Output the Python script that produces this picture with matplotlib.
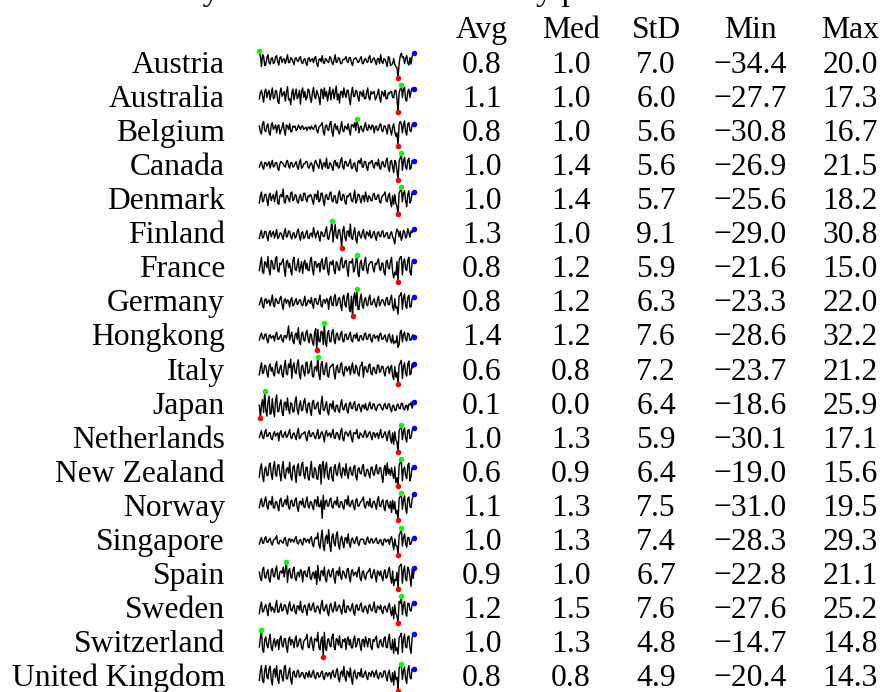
import matplotlib
matplotlib.use("Agg")
import matplotlib.pyplot as plt
import numpy as np

countries = ["Austria", "Australia", "Belgium", "Canada", "Denmark", "Finland",
             "France", "Germany", "Hongkong", "Italy", "Japan", "Netherlands",
             "New Zealand", "Norway", "Singapore", "Spain", "Sweden",
             "Switzerland", "United Kingdom"]

avg = [0.8, 1.1, 0.8, 1.0, 1.0, 1.3, 0.8, 0.8, 1.4, 0.6, 0.1, 1.0, 0.6, 1.1, 1.0, 0.9, 1.2, 1.0, 0.8]
med = [1.0, 1.0, 1.0, 1.4, 1.4, 1.0, 1.2, 1.2, 1.2, 0.8, 0.0, 1.3, 0.9, 1.3, 1.3, 1.0, 1.5, 1.3, 0.8]
std = [7.0, 6.0, 5.6, 5.6, 5.7, 9.1, 5.9, 6.3, 7.6, 7.2, 6.4, 5.9, 6.4, 7.5, 7.4, 6.7, 7.6, 4.8, 4.9]
mins = [-34.4, -27.7, -30.8, -26.9, -25.6, -29.0, -21.6, -23.3, -28.6, -23.7, -18.6, -30.1, -19.0, -31.0, -28.3, -22.8, -27.6, -14.7, -20.4]
maxs = [20.0, 17.3, 16.7, 21.5, 18.2, 30.8, 15.0, 22.0, 32.2, 21.2, 25.9, 17.1, 15.6, 19.5, 29.3, 21.1, 25.2, 14.8, 14.3]

headers = ["Avg", "Med", "StD", "Min", "Max"]

r_austria = [20.0, 8, -12, 12, 8, -10, -8, 6, 12, -4, -7, 4,
             6, -6, -4, 8, 10, -2, -9, 6, 8, -4, 2, 4,
             -6, 2, 12, -4, -4, 6, 4, -2, -8, 4, 6, 0,
             -2, 6, 8, -4, -6, 2, 4, -4, -10, 4, 6, -2,
             2, 4, -4, 6, 8, -6, -12, 2, 4, -2, 10, -4,
             -6, 4, 2, -2, -4, 8, 6, -4, -8, 2, 12, -4,
             -2, 6, 4, -6, -6, 2, 2, 4, 8, -2, -4, 6,
             6, -4, -10, 2, 4, 6, 2, -4, -2, 4, 8, -6,
             -6, 2, 4, -2, -4, 6, 10, -4, -2, 4, 6, -2,
             -8, 4, 4, -6, 12, -2, -6, 4, 2, -4, -12, 8,
             6, -10, -8, -6, 4, -8, -12, -14, -34.4, -6, 9, 15,
             6, 8, -6, 4, 10, -5, -9, 6, -7, 9, 12, 15]
r_australia = [-6, 4, 8, -2, -12, 6, 10, -4, 4, 8, -8, 2,
               12, -6, -4, 8, 6, -10, -14, 4, 12, -2, 2, 6,
               -10, 4, 14, -8, -6, -16, 4, 10, -8, 2, 10, -6,
               -2, 8, -15, 6, 12, -4, 6, -8, -4, 10, 8, -6,
               -12, 4, 13, -2, -6, 8, 2, -4, -16, 10, 8, -6,
               12, -2, 6, -10, 2, 13, -8, 4, 10, -6, 4, 15,
               -8, 2, -13, 6, 6, -4, 12, 2, -4, 8, 8, -6,
               -16, 4, 13, -2, -2, 8, 6, -4, -10, 6, 4, -2,
               8, -6, -6, 4, 12, -4, -8, 6, 2, 4, 6, -8,
               -4, 2, 10, -4, -12, 6, 4, -2, 8, -6, -6, 4,
               2, 6, 6, -4, -4, 8, 8, -6, -27.7, 4, 10, 17.3,
               -4, 10, 13, -8, -10, 6, 10, -4, 6, 12, 10, 10]
r_belgium = [4, -6, -10, 8, 12, -4, -6, 4, 8, -8, -12, 6,
             10, -2, 2, 6, -8, 4, 6, -10, -4, 2, 10, -4,
             -12, 6, 4, -2, 8, -6, -6, 4, 2, 4, -4, -2,
             6, 2, -2, 4, 4, -2, 0, 2, -4, 2, 2, -2,
             4, 0, -2, 4, 6, -4, -8, 2, 4, 6, 10, -6,
             -12, 4, 6, -2, -4, 8, 12, -6, -14, 4, 8, -2,
             4, -6, -10, 2, 12, -4, -6, 4, 2, -2, 8, -4,
             -12, 6, 6, 2, 10, -4, 16.7, 6, -8, 2, 4, -4,
             -6, 4, 10, -2, -4, 6, 2, -2, 6, 4, -8, 2,
             4, -4, -2, 6, 8, -4, -6, 4, 4, -2, -10, 6,
             6, -4, -12, 2, 8, -6, -14, -8, -30.8, 6, 12, 8,
             -8, 6, 13, -6, -12, 8, 10, -4, -6, 6, 8, 7.5]
r_canada = [-4, 2, 6, -4, -8, 4, 4, -2, 2, 6, -6, 2,
            8, -4, -2, 4, 4, -6, -10, 2, 6, 4, 2, -2,
            -4, 6, 8, -2, -6, 4, 4, -4, -2, 2, 6, -4,
            -8, 4, 10, -6, -4, 2, 2, 6, 6, -4, -6, 2,
            4, -2, -12, 4, 8, 2, -2, -6, 10, 4, -8, 2,
            4, -4, 12, -6, -6, 4, 2, -4, -10, 6, 8, -2,
            4, -6, -4, 8, 13, -4, -8, 6, 6, -2, -2, 4,
            10, -6, -6, 2, 4, -8, -12, 6, 8, 2, 12, -4,
            -4, 6, 6, -4, -10, 4, 2, 6, 8, -2, -6, 4,
            4, -2, 10, -6, -8, 4, 6, -2, -4, 8, 12, -6,
            -12, 6, 8, -4, -14, 8, 4, -10, -26.9, 6, 12, 21.5,
            -10, 6, 14, -4, -8, 8, 12, -8, -6, 8, 4, 7.7]
r_denmark = [-8, 4, 10, -6, -4, 6, 6, -2, -12, 4, 8, -4,
             2, 6, -6, 4, 12, -8, -10, 4, 6, 2, 15, -6,
             -8, 4, 4, -2, -6, 8, 10, -4, -2, 6, 4, -6,
             -8, 2, 6, -4, -4, 8, 8, -2, -6, 4, 2, 6,
             4, -4, -10, 6, 6, -2, 12, -6, -4, 8, 8, -4,
             -12, 4, 6, -2, -2, 8, 10, -4, -6, 4, 4, -8,
             -8, 6, 12, -2, -4, 6, 6, -6, -10, 4, 2, 6,
             8, -4, -6, 2, 13, -8, -4, 6, 6, -2, -8, 4,
             4, -6, 10, 2, -6, 4, 2, -4, -4, 6, 8, -2,
             -2, 4, 6, -6, -8, 2, 4, 6, 10, -4, -6, 4,
             8, -6, -14, 4, -10, 6, -8, -14, -25.6, 8, 12, 18.2,
             -6, 8, 12, -4, -14, 6, 12, -8, -4, 10, 6, 10.3]
r_finland = [-8, 4, 10, -7, -4, 8, 7, -3, -13, 5, 9, -4,
             3, 8, -7, 1, 12, -8, -5, 4, 4, -3, -10, 7,
             14, -5, -3, 9, 8, -4, -9, 3, 5, -7, -4, 8,
             13, -3, -12, 5, 7, -8, -5, 4, 10, -7, -8, 3,
             4, -5, 16, 5, -7, 3, 9, -4, -14, 7, 5, -3,
             -4, 8, 18, -7, -10, 4, 12, 30.8, -16, 5, 23, -4,
             -8, 10, 12, -3, -29.0, 9, 19, -5, -13, 8, 9, -4,
             24, -7, -10, 5, 16, -8, -18, 4, 8, -3, -7, 5,
             12, -4, -9, 7, 4, -3, 10, -7, -5, 4, 8, -4,
             -12, 5, 7, -3, -4, 8, 9, -5, -3, 4, 5, -7,
             -8, 3, 7, -4, -10, -20, 3, 13, 8, -4, 8, -12,
             -5, 10, 7, -7, -3, 14, 4, -5, 9, 5, 12, 12.5]
r_france = [-6, 4, 12, -8, -10, 6, 4, -2, 13, -6, -12, 8,
            6, -4, -4, 10, 13, -6, -8, 4, 2, 6, 10, -4,
            -14, 6, 8, -2, 4, -6, -12, 8, 12, -4, -6, 2,
            10, -8, -2, 6, -10, 4, 8, -4, 4, -6, -6, 8,
            12, -4, -12, 6, 6, -2, 2, 4, -8, 6, 10, -4,
            -4, 8, 12, -6, -12, 4, 6, 2, 8, -6, -10, 6,
            4, -4, -6, 8, 12, -2, -2, 6, 8, -4, -14, 6,
            6, 4, 10, -8, -4, 6, 15.0, -10, -14, 4, 8, -4,
            -6, 6, 12, -4, -10, 2, 4, 6, 6, -4, -8, 4,
            2, 6, 10, -4, -6, 4, 4, -8, -12, 6, 8, -2,
            -4, 6, 12, -8, -16, -8, -12, 6, -21.6, 8, 12, 13,
            -12, 6, 10, -4, -6, 8, 12, -8, -12, 6, 9, 7.2]
r_germany = [-4, 2, 8, -6, -10, 4, 6, -2, 2, 4, -6, 2,
             12, -4, -8, 6, 4, -2, -2, 6, 10, -4, -12, 4,
             6, -2, 4, 2, -8, 4, 8, -6, -4, 2, 6, -4,
             -2, 4, 4, -4, -6, 2, 10, -6, -4, 4, 2, -2,
             8, -4, -10, 6, 6, -2, -4, 4, 12, -6, -8, 4,
             4, -2, 6, 4, -12, 6, 10, -4, -6, 8, 13, -6,
             -4, 6, 8, -4, -14, 8, 12, -4, -8, 10, 15, -10,
             -16, 10, -23.3, 8, 16, -6, 22.0, -12, -12, 6, 14, -6,
             -10, 4, 8, -4, -6, 6, 12, -4, -4, 2, 6, -4,
             -8, 4, 10, -6, -2, 4, 4, -2, -6, 6, 8, -4,
             -4, 6, 12, -8, -14, 6, -10, -8, -20, 10, 12, 16,
             -12, 8, 14, -6, -10, 8, 12, -8, -8, 6, 10, 9.1]
r_hongkong = [-6, 4, 10, -2, -4, 6, 8, -4, -12, 4, 6, -2,
              2, 4, -8, 6, 12, -4, -4, 2, 6, -6, -10, 4,
              4, -2, 8, 26, -6, 4, 12, -8, -14, 6, 10, -4,
              22, -10, -16, 8, 12, -6, -8, 10, 16, -4, -12, 8,
              6, -10, -18, 10, 20, -28.6, 18, -8, -10, 14, 12, -16,
              32.2, -12, -20, 10, 16, -8, -10, 12, 18, -6, -14, 8,
              10, -4, -6, 8, 14, -8, -10, 6, 8, -4, -4, 6,
              12, -6, -10, 4, 6, -2, 10, -6, -8, 4, 4, -4,
              -6, 8, 10, -4, -4, 6, 8, -6, -10, 4, 6, -2,
              2, 4, -8, 6, 10, -4, -4, 2, 6, -6, -10, 4,
              8, -6, -12, 6, -14, -8, -12, 4, -22, -16, 12, 16,
              -10, 6, 12, -4, -8, 10, 8, -6, -6, 4, 6, 0.7]
r_italy = [-8, 4, 12, -6, -4, 8, 6, -4, -12, 6, 10, -2,
           4, -6, -10, 8, 14, -4, -6, 4, 8, -8, -12, 6,
           16, -6, -8, 10, 4, 18, -14, 6, 12, -4, -6, 10,
           17, -8, -15, 6, 8, -4, -10, 12, 13, -6, -4, 8,
           15, -10, -12, 4, 6, -2, 21.2, -8, -16, 10, 14, -6,
           -8, 6, 12, -10, -12, 4, 6, 8, 10, -6, -15, 4,
           8, -4, -4, 10, 12, -6, -10, 4, 6, -2, 2, 6,
           -8, 4, 12, -4, -6, 8, 4, -6, -10, 6, 8, 13,
           -12, 4, 6, -2, -4, 8, 10, -6, -8, 4, 4, -4,
           -6, 8, 8, -4, -2, 6, 6, -4, -10, 2, 4, 6,
           -6, 4, 8, -10, -16, 6, -12, -4, -23.7, 8, 12, 16,
           -14, 6, 12, -6, -10, 10, 15, -8, -6, 10, 4, 9.6]
r_japan = [3, -18.6, 4, 12, -9, 25.9, -5, -15, 8, 18, -12, -10,
           14, -7, -16, 10, 20, -8, -7, 5, 12, -9, -14, 7,
           8, -5, 15, -3, -11, 7, 5, -8, -8, 9, 17, -5,
           -12, 3, 10, -6, -5, 8, 14, -3, -10, 5, 7, -6,
           -14, 8, 11, -3, -3, 5, 8, -9, -12, 6, 18, -5,
           -6, 3, 9, -8, -13, 5, 5, -3, 10, -5, -8, 3,
           3, -6, -9, 5, 12, -3, -5, 3, 6, -6, -10, 5,
           8, -2, -3, 6, 9, -5, -6, 3, 5, -2, -8, 3,
           3, -3, 6, -5, -5, 3, 8, -2, -3, 5, 5, -3,
           -6, 2, 3, 5, 2, -3, -5, 3, 6, -2, -3, 5,
           5, -3, -8, 2, 3, -5, -6, 3, 5, -2, -3, 6,
           6, -3, -5, 2, 3, -5, 5, 3, 8, -2, 6, 7.6]
r_netherlands = [-4, 2, 8, -4, -6, 4, 10, -2, -2, 4, 4, -6,
                 -8, 2, 6, -2, 2, 4, -10, 4, 8, -2, -4, 2,
                 6, -4, -2, 4, 10, -4, -6, 2, 4, -2, -8, 4,
                 12, -6, -4, 2, 2, 4, 6, -4, -10, 4, 8, -2,
                 -2, 4, 4, -4, -6, 2, 10, -6, -4, 4, 6, -2,
                 -12, 4, 8, -2, 2, 4, -4, 2, 10, -4, -6, 4,
                 4, -2, -8, 6, 12, -6, -10, 4, 6, 2, -2, 4,
                 8, -6, -12, 4, 4, 2, 10, -4, -6, 4, 2, -2,
                 -4, 6, 8, -4, -2, 4, 6, -2, -8, 4, 4, -4,
                 2, 4, -6, 2, 10, -4, -4, 2, 6, -2, -10, 4,
                 8, -6, -14, 4, -16, 6, -8, -12, -30.1, 8, 12, 17.1,
                 -8, 6, 13, -6, -12, 8, 10, -6, -4, 8, 12, 13]
r_newzealand = [-7, 5, 10, -6, -13, 3, 6, -5, -5, 8, 11, -3,
                -10, 6, 13, -4, -6, 8, 9, -3, -12, 5, 13, -6,
                -9, 3, 5, -2, 12, -6, -11, 5, 8, -3, -14, 6,
                10, -5, -5, 9, 12, -3, -9, 5, 6, -8, -11, 3,
                13, -6, -8, 5, 3, -9, -10, 6, 9, -16, 8, 13,
                -8, 5, 12, -6, -10, 3, 6, -8, -12, 5, 9, -3,
                -5, 6, 11, -3, -8, 5, 3, -5, 10, -2, -9, 3,
                6, -3, -5, 5, 8, -6, -11, 3, 5, -2, -3, 6,
                9, -5, -6, 2, 3, -3, -8, 5, 6, -3, -5, 3,
                9, -2, -3, 5, 5, -6, -14, 3, 8, -5, 11, -3,
                3, -5, 5, -3, -9, 6, -14, -8, -19.0, 8, 12, 15.6,
                -12, 3, 6, -5, -9, 8, 11, -12, -6, 5, 3, 6.5]
r_norway = [-7, 4, 10, -5, -4, 7, 13, -4, -10, 5, 5, -2,
            14, -7, -8, 4, 4, -5, -13, 7, 11, -4, -5, 4,
            8, -2, 15, -7, -10, 5, 7, -4, -4, 8, 11, -7,
            -14, 4, 5, -2, 10, -5, -7, 5, 13, -4, -8, 4,
            4, -5, -11, 7, 8, -4, 14, -5, -5, 7, -27, 16,
            -10, 5, 7, -4, -4, 8, 11, -5, -8, 4, 5, -2,
            13, -5, -7, 4, 4, -5, -10, 7, 8, -2, 15, -4,
            -5, 4, 7, -5, -11, 7, 10, -4, -4, 2, 5, 8,
            13, -5, -8, 4, 4, -4, 10, -5, -7, 4, 5, -2,
            -10, 7, 14, -4, -5, 4, 8, -7, -13, 5, 7, -4,
            -8, 5, -16, 7, -10, 4, -18, -12, -31.0, 10, 14, 19.5,
            -10, 7, 15, -8, -18, 10, 13, -5, -7, 8, 16, 17.7]
r_singapore = [-6, 2, 8, -4, -4, 6, 10, -2, -2, 4, 6, -4,
               -8, 2, 4, 6, 12, -4, -6, 2, 2, -2, -4, 6,
               8, -6, -10, 4, 6, -2, 4, 2, -2, 6, 10, -4,
               -6, 2, 4, -4, -8, 6, 6, -2, 2, 4, -4, 6,
               10, -6, -12, 4, 8, 5, 18, -8, -15, 8, 24, -10,
               -20, 7, 13, -5, 25, -8, -22, 10, 16, -4, -10, 13,
               20, -7, -17, 5, 11, -4, -14, 7, 8, -4, 16, -5,
               -13, 4, 7, -2, -5, 4, 10, -4, -9, 2, 5, 4,
               4, -5, -7, 4, 9, -2, -4, 5, 5, -4, -2, 4,
               7, -4, -5, 2, 4, -5, -9, 4, 5, -2, 2, 4,
               -7, 5, 10, -4, -18, 5, -9, -10, -28.3, 12, 18, 29.3,
               -10, 7, 16, -5, -13, 8, 8, -7, -5, 4, 7, 6.5]
r_spain = [4, -6, -10, 8, 12, -4, -6, 4, 8, -8, -12, 6,
           10, -2, -4, 8, 14, -6, -8, 4, 6, 2, 12, -4,
           9, 21.1, -13, 6, 10, -4, -6, 8, 12, -6, -10, 2,
           4, -4, 8, 6, -12, 4, 6, -2, -4, 8, 12, -6,
           -8, 2, 4, -6, 6, -16, 15, -4, -10, 6, 6, -2,
           12, -8, -12, 4, 8, -2, -4, 6, 10, -6, -14, 4,
           6, -2, 12, -4, -8, 6, 4, -2, -6, 8, 10, -4,
           -12, 6, 8, -2, 2, 4, -4, 6, 12, -6, -10, 4,
           6, -4, -8, 2, 4, 6, 10, -4, -6, 4, 8, -2,
           -12, 6, 4, -2, 6, -4, -10, 4, 8, -6, -4, 6,
           12, -4, -14, 6, -18, -8, -10, 4, -22.8, 12, 15, 17,
           -14, 6, 14, -8, -10, 12, 8, -6, -19, 8, -6, 10.1]
r_sweden = [-10, 5, 13, -7, -5, 3, 8, -3, -14, 7, 11, -5,
            3, -2, -8, 5, 16, -7, -7, 3, 10, -5, -3, 7,
            7, -3, -11, 5, 13, -2, -5, 3, 8, -7, -10, 5,
            5, -3, 14, -5, -8, 3, 7, -2, -13, 5, 10, -3,
            -3, 7, 11, -5, -7, 3, 5, -2, -10, 7, 16, -3,
            -5, 3, 8, -7, -14, 5, 10, -2, -7, 3, 13, -5,
            -3, 5, 7, -2, -11, 3, 17, -7, -8, 5, 5, -2,
            -5, 3, 10, -7, -13, 5, 8, -3, -3, 7, 11, -5,
            -7, 3, 5, -3, -10, 5, 8, -2, -5, 3, 13, -7,
            -8, 5, 3, -2, 7, -5, -10, 3, 5, -3, -7, 5,
            10, -5, -14, 3, -20, 7, -10, -15, -27.6, 14, 10, 25.2,
            -12, 7, 14, -8, -15, 10, 10, -3, -5, 8, 13, 11.5]
r_switzerland = [-4, 6, 14.8, -7, -10, 4, 7, -2, -5, 4, 10, -5,
                 -8, 2, 5, -4, 2, 4, -7, 5, 8, -2, -4, 5,
                 5, -4, -10, 4, 7, -2, 4, 2, -5, 4, 8, -4,
                 -2, 4, 5, -5, -7, 2, 4, 5, 10, -4, -5, 4,
                 7, -2, -8, 5, 4, 2, 12, -5, -7, 4, 7, -14.7,
                 12, -5, -8, 4, 5, -2, -4, 7, 10, -4, -7, 5,
                 4, -2, 8, -4, -5, 4, 2, 5, -7, 4, 7, -2,
                 4, -5, -5, 4, 8, -4, -2, 5, 5, -2, -8, 4,
                 4, -4, 7, 2, -4, 5, 5, -4, -7, 4, 2, 5,
                 8, -4, -5, 2, 4, -2, -4, 5, 7, -4, -5, 4,
                 10, -5, -7, 4, -11, 5, -8, -5, -12, 6, 8, 11,
                 -10, 5, 10, -4, -5, 7, 8, -5, -11, 6, 9, 10.3]
r_uk = [-7, 5, 12, -8, -10, 6, 12, -3, -5, 8, 11, -6,
        -13, 5, 8, -3, 12, -5, -11, 6, 6, -3, -8, 10,
        12, -5, -5, 3, 9, -6, -12, 3, 5, -2, -3, 5,
        6, -3, -2, 3, 3, -2, -5, 3, 2, -3, 5, -2,
        -3, 3, 6, -3, -5, 2, 3, -3, -2, 3, 5, -3,
        -6, 2, 3, -2, 2, 3, -5, 3, 6, -2, -3, 5,
        8, -5, -9, 3, 5, -2, 11, -3, -8, 5, 3, -3,
        9, -5, -12, 3, 6, -2, -5, 3, 3, -2, 8, -3,
        -3, 2, 5, -3, -6, 3, 2, -2, 5, 3, -3, 2,
        6, -3, -5, 2, 3, -3, -2, 5, 5, -3, -8, 3,
        6, -5, -9, 3, -13, 5, -6, -3, -20.4, 9, 11, 14.3,
        -6, 5, 10, -5, -11, 6, 12, -3, -5, 8, 6, 8.2]

returns = [r_austria, r_australia, r_belgium, r_canada, r_denmark, r_finland,
           r_france, r_germany, r_hongkong, r_italy, r_japan, r_netherlands,
           r_newzealand, r_norway, r_singapore, r_spain, r_sweden,
           r_switzerland, r_uk]

title = "Summary statistics of the monthly percent returns"

W, H = 883, 692
fig = plt.figure(figsize=(W / 100, H / 100), dpi=100)
bg = fig.add_axes([0, 0, 1, 1])
bg.set_xlim(0, W)
bg.set_ylim(H, 0)
bg.axis("off")

fam = ["Liberation Serif", "DejaVu Serif"]
fs = 22.75
row0 = 73.0
dy = 34.06
col_x = [482, 571, 656, 750, 850]

bg.text(88, 0, title, family=fam, fontsize=24.4, ha="left", va="baseline")

for j, h in enumerate(headers):
    bg.text(col_x[j], 38, h, family=fam, fontsize=fs, ha="center", va="baseline")


def fmt(v):
    return f"{v:.1f}".replace("-", "\u2212")


for i, c in enumerate(countries):
    yb = row0 + dy * i
    bg.text(225, yb, c, family=fam, fontsize=fs, ha="right", va="baseline")
    for j, v in enumerate([avg[i], med[i], std[i], mins[i], maxs[i]]):
        bg.text(col_x[j], yb, fmt(v), family=fam, fontsize=fs, ha="center", va="baseline")

    data = np.array(returns[i], dtype=float)
    x = np.arange(len(data))
    top = 50.7 + dy * i
    bot = 77.7 + dy * i
    ax = fig.add_axes([259.3 / W, (H - bot) / H, 155.0 / W, (bot - top) / H])
    ax.plot(x, data, color="black", lw=1.0, clip_on=False)
    imax = int(np.argmax(data))
    imin = int(np.argmin(data))
    ax.plot(x[imax], data[imax], "o", color="#00ff00", ms=4, mec="none", clip_on=False)
    ax.plot(x[imin], data[imin], "o", color="#ff0000", ms=4, mec="none", clip_on=False)
    ax.plot(x[-1], data[-1], "o", color="#0000ff", ms=4, mec="none", clip_on=False)
    ax.set_xlim(0, len(data) - 1)
    ax.set_ylim(data.min(), data.max())
    ax.axis("off")

fig.savefig("out.png", dpi=100)
